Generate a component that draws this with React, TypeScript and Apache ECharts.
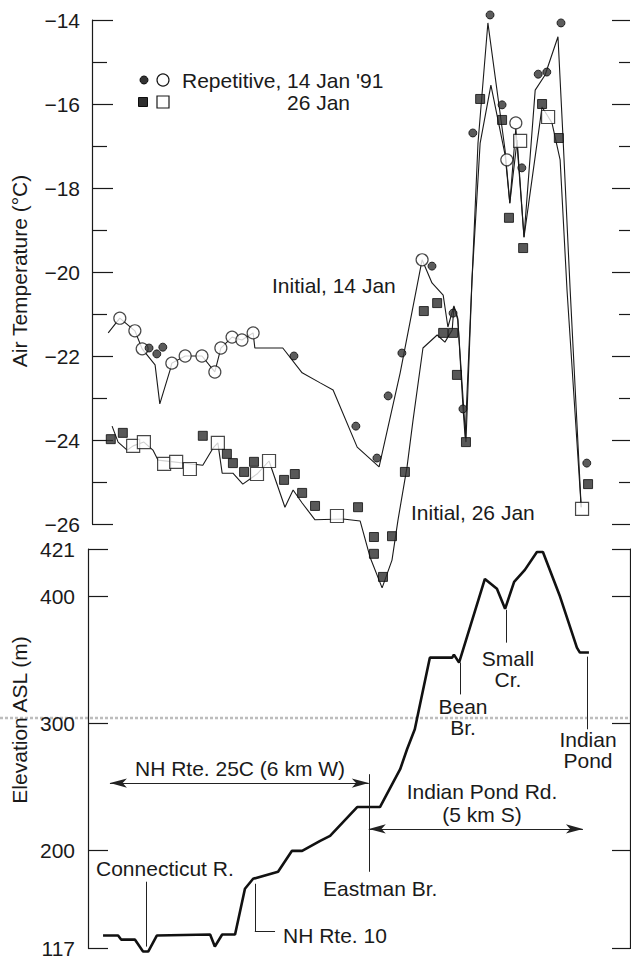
import React, { useEffect, useRef } from "react";
import * as echarts from "echarts";

const FONT = '"Liberation Sans", Arial, Helvetica, sans-serif';
const INK = "#1a1a1a";

// x = distance along the route (km), y = air temperature (°C)
const initial14Jan: number[][] = [
  [0.47, -21.45], [0.74, -21.1], [1.09, -21.4], [1.26, -21.83], [1.56, -22.21], [1.67, -23.14],
  [1.91, -22.33], [1.95, -22.17], [2.26, -22.0], [2.65, -22.0], [2.95, -22.38], [3.09, -21.81],
  [3.35, -21.55], [3.58, -21.62], [3.84, -21.45], [3.88, -21.81], [4.53, -21.81], [4.98, -22.4],
  [5.4, -22.64], [5.7, -22.81], [6.26, -24.17], [6.77, -24.64], [7.26, -22.4], [7.77, -19.71],
  [8.0, -20.26], [8.26, -20.55], [8.37, -21.31], [8.51, -20.81], [8.6, -21.1], [8.72, -23.21],
  [8.77, -23.93], [9.07, -16.93], [9.3, -14.07], [9.7, -17.1], [9.81, -18.36], [9.95, -16.57],
  [10.14, -19.17], [10.4, -15.67], [10.63, -15.31], [10.93, -14.4], [11.05, -16.86], [11.21, -20.36],
  [11.47, -25.6],
];

const initial26Jan: number[][] = [
  [0.56, -23.67], [0.7, -24.05], [0.91, -24.24], [1.05, -24.14], [1.3, -24.05], [1.51, -24.24],
  [1.63, -24.48], [2.67, -24.6], [2.91, -24.19], [3.02, -24.07], [3.12, -24.79], [3.37, -24.79],
  [3.6, -25.05], [3.93, -24.81], [4.21, -24.5], [4.58, -25.6], [4.77, -25.19], [4.98, -25.5],
  [5.28, -25.9], [5.93, -25.88], [6.33, -25.93], [6.56, -26.79], [6.84, -27.52], [7.07, -26.86],
  [7.21, -25.9], [7.42, -24.64], [7.56, -23.52], [7.79, -21.81], [8.12, -21.5], [8.3, -21.67],
  [8.47, -21.38], [8.51, -20.83], [8.6, -21.14], [8.79, -24.05], [8.93, -20.19], [9.12, -16.93],
  [9.37, -15.55], [9.7, -17.21], [9.81, -18.36], [9.98, -16.86], [10.14, -19.17], [10.56, -16.07],
  [10.79, -16.45], [10.98, -17.33], [11.14, -20.43], [11.47, -25.6],
];

const repetitive14JanFilled: number[][] = [
  [1.42, -21.81], [1.6, -21.95], [1.74, -21.79], [4.79, -22.0], [6.23, -23.67], [6.72, -24.43],
  [6.98, -22.95], [7.3, -21.93], [8.0, -19.86], [8.49, -20.98], [8.72, -23.26], [8.95, -16.69],
  [9.35, -13.88], [9.63, -16.02], [10.09, -17.52], [10.47, -15.29], [10.67, -15.24], [11.0, -14.07],
  [11.6, -24.55],
];

const repetitive14JanOpen: number[][] = [
  [0.74, -21.1], [1.09, -21.4], [1.26, -21.83], [1.95, -22.17], [2.26, -22.0], [2.65, -22.0],
  [2.95, -22.38], [3.09, -21.81], [3.35, -21.55], [3.58, -21.62], [3.84, -21.45], [7.77, -19.71],
  [9.74, -17.33], [9.95, -16.45],
];

const repetitive26JanFilled: number[][] = [
  [0.53, -23.98], [0.81, -23.83], [2.67, -23.9], [3.23, -24.33], [3.37, -24.55], [3.63, -24.76],
  [3.86, -24.52], [4.56, -24.95], [4.81, -24.81], [4.98, -25.26], [5.28, -25.57], [6.28, -25.6],
  [6.65, -26.31], [7.07, -26.29], [6.65, -26.71], [6.86, -27.26], [7.37, -24.76], [7.81, -20.93],
  [8.12, -20.74], [8.26, -21.45], [8.49, -21.45], [8.58, -22.45], [8.79, -24.05], [9.12, -15.88],
  [9.63, -16.38], [9.79, -18.71], [10.12, -19.43], [10.56, -16.0], [10.95, -16.81], [11.63, -25.05],
];

const repetitive26JanOpen: number[][] = [
  [1.05, -24.14], [1.3, -24.05], [1.77, -24.57], [2.05, -24.52], [2.37, -24.69], [3.02, -24.07],
  [3.93, -24.81], [4.21, -24.5], [5.79, -25.81], [10.05, -16.88], [10.7, -16.31], [11.49, -25.64],
];

// x = distance (km), y = elevation ASL (m)
const elevation: number[][] = [
  [0.35, 133.2], [0.7, 133.2], [0.77, 130.0], [1.09, 130.0], [1.28, 120.6], [1.4, 120.6],
  [1.6, 133.2], [2.84, 134.0], [2.95, 124.6], [3.12, 134.0], [3.42, 134.0], [3.65, 170.0],
  [3.84, 177.8], [4.42, 183.3], [4.74, 199.7], [4.98, 199.7], [5.4, 207.6], [5.63, 211.5],
  [6.26, 234.2], [6.79, 234.2], [7.26, 263.9], [7.42, 279.6], [7.6, 295.3], [7.95, 351.6],
  [8.47, 351.6], [8.51, 354.0], [8.63, 347.7], [9.23, 413.5], [9.51, 405.7], [9.7, 390.0],
  [9.91, 411.2], [10.16, 420.6], [10.44, 434.7], [10.58, 434.7], [10.98, 399.4], [11.37, 359.5],
  [11.44, 355.6], [11.65, 355.6],
];

// temperature axis
const tempMin = -26;
const tempMax = -14;
// elevation axis: drawn range and its labelled ticks
const elevMin = 123;
const elevMax = 437;
const elevTicks = [123, 200, 300, 400, 437];
const elevTickText: Record<number, string> = { 123: "117", 437: "421" };

// leader lines: [km, top elevation, bottom elevation]
const leaders: number[][] = [
  [1.35, 175.5, 124.5], // Connecticut R.
  [3.88, 173.9, 136.3], // NH Rte. 10
  [6.53, 260.0, 183.3], // Eastman Br.
  [8.65, 347.7, 322.7], // Bean Br.
  [9.72, 389.2, 363.4], // Small Cr.
  [11.6, 352.4, 295.3], // Indian Pond
];
const nhRte10Elbow = [3.88, 4.35, 136.3];
// range arrows: [from km, to km, elevation]
const rangeArrows: number[][] = [
  [0.51, 6.53, 253.0], // NH Rte. 25C (6 km W)
  [6.53, 11.51, 217.0], // Indian Pond Rd. (5 km S)
];

const minus = (v: number) => String(v).replace("-", "\u2212");

function txt(text: string, x: number, y: number, align = "left", extra: any = {}) {
  return {
    type: "text",
    x,
    y,
    silent: true,
    ...extra,
    style: {
      text,
      x: 0,
      y: 0,
      fill: INK,
      font: `21px ${FONT}`,
      textAlign: align,
      textVerticalAlign: "middle",
      lineHeight: extra.lineHeight || 21,
    },
  };
}

export default function App() {
  const ref = useRef<HTMLDivElement>(null);

  useEffect(() => {
    if (!ref.current) return;
    const chart = echarts.init(ref.current, null, { renderer: "svg" });

    const markLineData: any[] = [];
    leaders.forEach(([x, y1, y2]) => {
      markLineData.push([{ coord: [x, y1] }, { coord: [x, y2] }]);
    });
    markLineData.push([
      { coord: [nhRte10Elbow[0], nhRte10Elbow[2]] },
      { coord: [nhRte10Elbow[1], nhRte10Elbow[2]] },
    ]);
    rangeArrows.forEach(([x1, x2, y]) => {
      markLineData.push([
        { coord: [x1, y], symbol: "arrow", symbolSize: [7, 17] },
        { coord: [x2, y], symbol: "arrow", symbolSize: [7, 17] },
      ]);
    });

    const axisLine = { show: true, lineStyle: { color: INK, width: 1.2 } };
    const tickStyle = { color: INK, width: 1.2 };

    chart.setOption({
      animation: false,
      backgroundColor: "#ffffff",
      textStyle: { fontFamily: FONT },
      grid: [
        { left: 92, top: 20, width: 538, height: 504 },
        { left: 88, top: 549, width: 542, height: 401 },
      ],
      xAxis: [
        { gridIndex: 0, type: "value", min: 0.093, max: 12.605, show: false },
        { gridIndex: 1, type: "value", min: 0, max: 12.605, show: false },
      ],
      yAxis: [
        {
          gridIndex: 0,
          type: "value",
          position: "left",
          min: tempMin,
          max: tempMax,
          interval: 2,
          axisLine,
          axisTick: { show: true, inside: true, length: 21, lineStyle: tickStyle },
          minorTick: { show: true, splitNumber: 2, length: 15, lineStyle: tickStyle },
          axisLabel: { formatter: minus, fontSize: 21, color: INK, margin: 12, fontFamily: FONT },
          splitLine: { show: false },
        },
        {
          gridIndex: 0,
          type: "value",
          position: "right",
          min: tempMin,
          max: tempMax,
          interval: 2,
          axisLine: { show: false },
          axisTick: { show: true, inside: true, length: 18, lineStyle: tickStyle },
          minorTick: { show: true, splitNumber: 2, length: 11, lineStyle: tickStyle },
          axisLabel: { show: false },
          splitLine: { show: false },
        },
        {
          gridIndex: 1,
          type: "value",
          position: "left",
          min: elevMin,
          max: elevMax,
          axisLine,
          axisTick: { show: true, inside: true, length: 20, lineStyle: tickStyle, customValues: elevTicks },
          axisLabel: {
            customValues: elevTicks,
            formatter: (v: number) => elevTickText[v] ?? String(v),
            fontSize: 21,
            color: INK,
            margin: 13,
            fontFamily: FONT,
          },
          splitLine: { show: false },
        },
        {
          gridIndex: 1,
          type: "value",
          position: "right",
          min: elevMin,
          max: elevMax,
          axisLine,
          axisTick: { show: true, inside: true, length: 18, lineStyle: tickStyle, customValues: elevTicks },
          axisLabel: { show: false },
          splitLine: { show: false },
        },
      ],
      series: [
        {
          name: "Initial, 14 Jan",
          type: "line",
          xAxisIndex: 0,
          yAxisIndex: 0,
          data: initial14Jan,
          symbol: "none",
          clip: false,
          lineStyle: { color: INK, width: 1.1 },
          z: 2,
        },
        {
          name: "Initial, 26 Jan",
          type: "line",
          xAxisIndex: 0,
          yAxisIndex: 0,
          data: initial26Jan,
          symbol: "none",
          clip: false,
          lineStyle: { color: INK, width: 1.1 },
          z: 2,
        },
        {
          name: "Repetitive, 14 Jan '91 (open)",
          type: "scatter",
          xAxisIndex: 0,
          yAxisIndex: 0,
          data: repetitive14JanOpen,
          symbol: "circle",
          symbolSize: 12,
          clip: false,
          itemStyle: { color: "#ffffff", borderColor: INK, borderWidth: 1.2 },
          z: 3,
        },
        {
          name: "Repetitive, 26 Jan (open)",
          type: "scatter",
          xAxisIndex: 0,
          yAxisIndex: 0,
          data: repetitive26JanOpen,
          symbol: "rect",
          symbolSize: 13,
          clip: false,
          itemStyle: { color: "#ffffff", borderColor: INK, borderWidth: 1.2 },
          z: 3,
        },
        {
          name: "Repetitive, 14 Jan '91",
          type: "scatter",
          xAxisIndex: 0,
          yAxisIndex: 0,
          data: repetitive14JanFilled,
          symbol: "circle",
          symbolSize: 8,
          clip: false,
          itemStyle: { color: "#333333", borderColor: "#0d0d0d", borderWidth: 1 },
          z: 4,
        },
        {
          name: "Repetitive, 26 Jan",
          type: "scatter",
          xAxisIndex: 0,
          yAxisIndex: 0,
          data: repetitive26JanFilled,
          symbol: "rect",
          symbolSize: 9,
          clip: false,
          itemStyle: { color: "#2e2e2e", borderColor: "#0d0d0d", borderWidth: 1 },
          z: 4,
        },
        {
          name: "Elevation",
          type: "line",
          xAxisIndex: 1,
          yAxisIndex: 2,
          data: elevation,
          symbol: "none",
          clip: false,
          lineStyle: { color: "#111111", width: 2.6 },
          markLine: {
            silent: true,
            symbol: "none",
            label: { show: false },
            lineStyle: { color: "#222222", width: 1, type: "solid" },
            emphasis: { disabled: true },
            data: markLineData,
          },
        },
      ],
      graphic: [
        { type: "line", silent: true, shape: { x1: 0, y1: 718, x2: 631, y2: 718 }, style: { stroke: "#bdbdbd", lineWidth: 2.5, lineDash: [3, 2] } },
        { ...txt("Air Temperature (°C)", 19, 271, "center"), rotation: Math.PI / 2 },
        { ...txt("Elevation ASL (m)", 19, 720, "center"), rotation: Math.PI / 2 },
        { type: "circle", silent: true, shape: { cx: 144, cy: 80, r: 4 }, style: { fill: "#333333", stroke: "#0d0d0d", lineWidth: 1 } },
        { type: "circle", silent: true, shape: { cx: 163, cy: 80, r: 6 }, style: { fill: "#ffffff", stroke: INK, lineWidth: 1.2 } },
        { type: "rect", silent: true, shape: { x: 138.5, y: 97.5, width: 9, height: 9 }, style: { fill: "#2e2e2e", stroke: "#0d0d0d", lineWidth: 1 } },
        { type: "rect", silent: true, shape: { x: 157, y: 96, width: 12, height: 12 }, style: { fill: "#ffffff", stroke: INK, lineWidth: 1.2 } },
        txt("Repetitive, 14 Jan '91", 182, 80),
        txt("26 Jan", 287, 102),
        txt("Initial, 14 Jan", 272, 285),
        txt("Initial, 26 Jan", 411, 512),
        txt("NH Rte. 25C (6 km W)", 135, 768),
        txt("Indian Pond Rd.\n(5 km S)", 482, 803, "center", { lineHeight: 23 }),
        txt("Connecticut R.", 96, 868),
        txt("Eastman Br.", 323, 888),
        txt("NH Rte. 10", 283, 935),
        txt("Bean\nBr.", 463, 717, "center"),
        txt("Small\nCr.", 508, 669, "center"),
        txt("Indian\nPond", 588, 750, "center"),
      ],
    });

    return () => chart.dispose();
  }, []);

  return (
    <div
      ref={ref}
      style={{ position: "fixed", left: 0, top: 0, width: 631, height: 959, background: "#fff" }}
    />
  );
}
